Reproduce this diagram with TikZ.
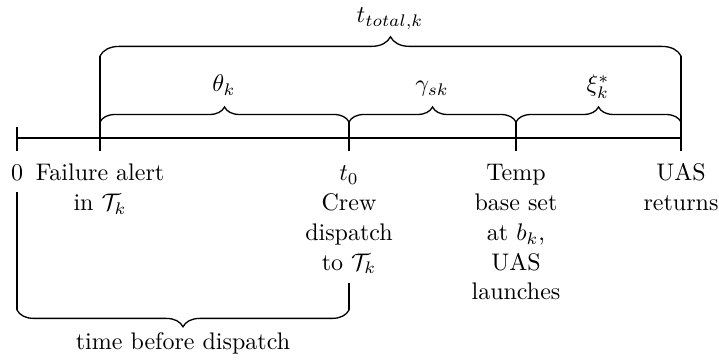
\documentclass[tikz,border=0pt]{standalone}
\usetikzlibrary{decorations.pathreplacing}
\begin{document}
\begin{tikzpicture}[x=0.4167pt,y=-0.4167pt,
  ln/.style={line width=0.55pt},
  br/.style={line width=0.55pt, decorate, decoration={brace, amplitude=#1}},
  lbl/.style={align=center, anchor=north, inner sep=0pt, font=\fontsize{10}{12.4}\selectfont},
  ml/.style={anchor=base, inner sep=0pt}]
\useasboundingbox (0,0) rectangle (719,360);
% timeline points
\coordinate (p0) at (17,138);
\coordinate (pD) at (681,138);
\coordinate (p0t) at (17,127);
\coordinate (p0b) at (17,151);
\coordinate (aT) at (100,56);
\coordinate (aU) at (100,122);
\coordinate (aB) at (100,151);
\coordinate (bU) at (349,122);
\coordinate (bB) at (349,151);
\coordinate (cU) at (516,122);
\coordinate (cB) at (516,151);
\coordinate (dT) at (681,56);
\coordinate (dU) at (681,122);
\coordinate (dB) at (681,151);
% bottom brace
\coordinate (zS) at (17,192);
\coordinate (zE) at (17,310);
\coordinate (tS) at (349,283);
\coordinate (tE) at (349,310);
% axis and ticks
\draw[ln] (p0) -- (pD);
\draw[ln] (p0t) -- (p0b);
\draw[ln] (aT) -- (aB);
\draw[ln] (bU) -- (bB);
\draw[ln] (cU) -- (cB);
\draw[ln] (dT) -- (dB);
% braces
\draw[br=8pt] (aT) -- (dT);
\draw[br=6.25pt] (aU) -- (bU);
\draw[br=6.25pt] (bU) -- (cU);
\draw[br=6.25pt] (cU) -- (dU);
\draw[ln] (zS) -- (zE);
\draw[ln] (tS) -- (tE);
\draw[br=7pt] (tE) -- (zE);
% brace labels
\node[ml] (ttot) at (390,23) {$t_{total,k}$};
\node[ml] (th) at (224,92) {$\theta_k$};
\node[ml] (ga) at (432,92) {$\gamma_{sk}$};
\node[ml] (xi) at (598,92) {$\xi_k^*$};
\node[ml] (tbd) at (183,350) {time before dispatch};
% event labels
\node[lbl] (n0) at (17,159.6) {\strut 0};
\node[lbl] (nA) at (100,159.6) {\strut Failure alert\\in $\mathcal{T}_k$};
\node[lbl] (nB) at (349,159.6) {\strut$t_0$\\Crew\\dispatch\\to $\mathcal{T}_k$};
\node[lbl] (nC) at (516,159.6) {\strut Temp\\base set\\at $b_k$,\\UAS\\launches};
\node[lbl] (nD) at (681,159.6) {\strut UAS\\returns};
\end{tikzpicture}
\end{document}
